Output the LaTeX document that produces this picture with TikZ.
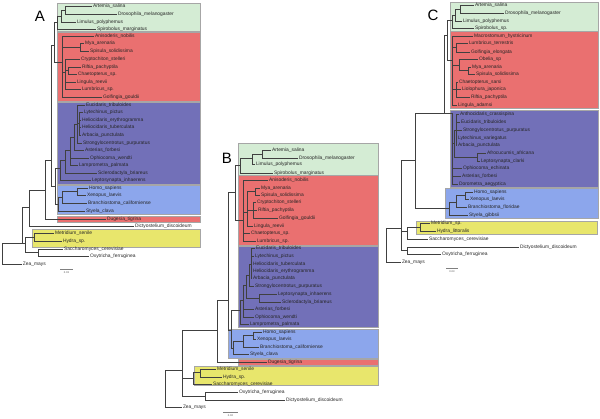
\documentclass[tikz,border=0pt]{standalone}
\usepackage{fontspec}
\setmainfont{Liberation Sans}
\definecolor{bgreen}{RGB}{212,236,212}
\definecolor{bred}{RGB}{234,112,112}
\definecolor{bpurple}{RGB}{114,112,184}
\definecolor{bblue}{RGB}{140,166,236}
\definecolor{byellow}{RGB}{232,230,108}
\newcommand\kids[2]{\foreach \c in {#2}{\draw[br] (#1) |- (\c);}}
\tikzset{
  br/.style={draw=black!75, line width=0.45pt},
  lab/.style={anchor=west, inner xsep=0.8pt, inner ysep=0.3pt, font=\fontsize{4.9}{5.2}\selectfont, text=black!85},
  box/.style={draw=black!35, line width=0.35pt},
  panel/.style={font=\fontsize{15}{15}\selectfont},
  sbar/.style={draw=black!50, line width=0.5pt},
  slab/.style={font=\fontsize{2.6}{3}\selectfont, text=black!70, inner sep=0.3pt}
}
\begin{document}
\begin{tikzpicture}[x=1pt,y=-1pt]
\useasboundingbox (0,0) rectangle (600,418);
% ===================== Panel A =====================
\node[panel] (LA) at (40,16) {A};
\filldraw[box,fill=bgreen] (57,3) rectangle (200,31);
\filldraw[box,fill=bred] (57,32) rectangle (200,101);
\filldraw[box,fill=bpurple] (57,102) rectangle (200,184);
\filldraw[box,fill=bblue] (57,185) rectangle (200,214);
\filldraw[box,fill=bred] (57,216) rectangle (200,222);
\filldraw[box,fill=byellow] (32,229) rectangle (200,247);
\node[lab] (Aart) at (92,6) {Artemia\_salina};
\node[lab] (Adro) at (117,14) {Drosophila\_melanogaster};
\node[lab] (Alim) at (76,22) {Limulus\_polyphemus};
\node[lab] (Aspi) at (96,29) {Spirobolus\_marginatus};
\node[lab] (Aani) at (94,36) {Anisoderis\_nobilis};
\node[lab] (Amya) at (84,43) {Mya\_arenaria};
\node[lab] (Aspis) at (89,51) {Spisula\_solidissima};
\node[lab] (Acry) at (80,59) {Cryptochiton\_stelleri};
\node[lab] (Arif) at (81,67) {Riftia\_pachyptila};
\node[lab] (Acha) at (77,74) {Chaetopterus\_sp.};
\node[lab] (Alin) at (76,82) {Lingula\_reevii};
\node[lab] (Alum) at (81,89) {Lumbricus\_sp.};
\node[lab] (Agol) at (102,97) {Golfingia\_gouldii};
\node[lab] (Aeuc) at (85,105) {Eucidaris\_tribuloides};
\node[lab] (Alyt) at (83,112) {Lytechinus\_pictus};
\node[lab] (Ahery) at (81,120) {Heliocidaris\_erythrogramma};
\node[lab] (Ahtub) at (81,127) {Heliocidaris\_tuberculata};
\node[lab] (Aarb) at (81,135) {Arbacia\_punctulata};
\node[lab] (Astr) at (82,143) {Strongylocentrotus\_purpuratus};
\node[lab] (Aast) at (84,150) {Asterias\_forbesi};
\node[lab] (Aoph) at (89,158) {Ophiocoma\_wendti};
\node[lab] (Alam) at (78,165) {Lamprometra\_palmata};
\node[lab] (Ascl) at (97,173) {Sclerodactyla\_briareus};
\node[lab] (Alep) at (91,180) {Leptosynapta\_inhaerens};
\node[lab] (Ahom) at (88,188) {Homo\_sapiens};
\node[lab] (Axen) at (86,195) {Xenopus\_laevis};
\node[lab] (Abra) at (87,203) {Branchiostoma\_californiense};
\node[lab] (Asty) at (85,211) {Styela\_clava};
\node[lab] (Adug) at (106,219) {Dugesia\_tigrina};
\node[lab] (Adic) at (134,226) {Dictyostelium\_discoideum};
\node[lab] (Amet) at (54,233) {Metridium\_senile};
\node[lab] (Ahyd) at (62,241) {Hydra\_sp.};
\node[lab] (Asac) at (63,249) {Saccharomyces\_cerevisiae};
\node[lab] (Aoxy) at (89,256) {Oxytricha\_ferruginea};
\node[lab] (Azea) at (22,264) {Zea\_mays};
\coordinate (Aa1) at (65,10);
\coordinate (Aa2) at (61,16);
\coordinate (Aa3) at (57,22);
\coordinate (Ar1) at (80,47.5);
\coordinate (Ar3) at (68,70.5);
\coordinate (Ar4) at (65,72);
\coordinate (Ar5) at (62,62);
\coordinate (Ap1) at (54,45);
\coordinate (Ae1) at (79.5,123.5);
\coordinate (Ae2) at (77,124);
\coordinate (Ae3) at (74,137);
\coordinate (Ae4) at (70,150);
\coordinate (Ae5) at (65,160);
\coordinate (Ae6) at (60,168);
\coordinate (Ac1) at (77,191.5);
\coordinate (Ac2) at (62,197);
\coordinate (Ac3) at (58,204);
\coordinate (Ad1) at (55,186);
\coordinate (Ab1) at (51,160);
\coordinate (Ab2) at (45,190);
\coordinate (Ab3) at (29,207);
\coordinate (Ab4) at (22,243);
\coordinate (An2) at (25,243);
\coordinate (Acn) at (34,237);
\coordinate (Afu) at (38,252.5);
\coordinate (Aroot) at (2,253);
\kids{Aa1}{Aart,Adro}
\kids{Aa2}{Aa1,Alim}
\kids{Aa3}{Aa2,Aspi}
\kids{Ar1}{Amya,Aspis}
\kids{Ar3}{Arif,Acha}
\kids{Ar4}{Acry,Ar3,Alin,Alum}
\kids{Ar5}{Aani,Ar1,Ar4,Agol}
\kids{Ap1}{Aa3,Ar5}
\kids{Ae1}{Alyt,Ahery,Ahtub,Aarb}
\kids{Ae2}{Aeuc,Ae1,Astr}
\kids{Ae3}{Ae2,Aast}
\kids{Ae4}{Ae3,Aoph,Alam}
\kids{Ae5}{Ae4,Ascl}
\kids{Ae6}{Ae5,Alep}
\kids{Ac1}{Ahom,Axen}
\kids{Ac2}{Ac1,Abra}
\kids{Ac3}{Ac2,Asty}
\kids{Ad1}{Ae6,Ac3}
\kids{Ab1}{Ap1,Ad1}
\kids{Ab2}{Ab1,Adug}
\kids{Ab3}{Ab2,Adic}
\kids{Ab4}{Ab3,An2}
\kids{An2}{Acn,Afu}
\kids{Acn}{Amet,Ahyd}
\kids{Afu}{Asac,Aoxy}
\kids{Aroot}{Ab4,Azea}
\coordinate (As1) at (60,269);
\coordinate (As2) at (73,269);
\draw[sbar] (As1) -- (As2);
\node[slab] (Asl) at (66.5,272.5) {0.03};
% ===================== Panel B =====================
\node[panel] (LB) at (227,158) {B};
\filldraw[box,fill=bgreen] (238,143) rectangle (378,175);
\filldraw[box,fill=bred] (238,175.5) rectangle (378,245);
\filldraw[box,fill=bpurple] (238,246) rectangle (378,327);
\filldraw[box,fill=bblue] (228,329) rectangle (378,358);
\filldraw[box,fill=bred] (238,359) rectangle (378,365);
\filldraw[box,fill=byellow] (194,366) rectangle (378,385);
\node[lab] (Bart) at (271,150) {Artemia\_salina};
\node[lab] (Bdro) at (298,158) {Drosophila\_melanogaster};
\node[lab] (Blim) at (255,164) {Limulus\_polyphemus};
\node[lab] (Bspi) at (273,173) {Spirobolus\_marginatus};
\node[lab] (Bani) at (268,180) {Anisoderis\_nobilis};
\node[lab] (Bmya) at (260,188) {Mya\_arenaria};
\node[lab] (Bspis) at (260,195) {Spisula\_solidissima};
\node[lab] (Bcry) at (256,202) {Cryptochiton\_stelleri};
\node[lab] (Brif) at (257,210) {Riftia\_pachyptila};
\node[lab] (Bgol) at (278,218) {Golfingia\_gouldii};
\node[lab] (Blin) at (253,226) {Lingula\_reevii};
\node[lab] (Bcha) at (250,233) {Chaetopterus\_sp.};
\node[lab] (Blum) at (256,241) {Lumbricus\_sp.};
\node[lab] (Beuc) at (255,248) {Eucidaris\_tribuloides};
\node[lab] (Blyt) at (254,256) {Lytechinus\_pictus};
\node[lab] (Bhtub) at (252,264) {Heliocidaris\_tuberculata};
\node[lab] (Bhery) at (252,271) {Heliocidaris\_erythrogramma};
\node[lab] (Barb) at (252,278) {Arbacia\_punctulata};
\node[lab] (Bstr) at (254,286) {Strongylocentrotus\_purpuratus};
\node[lab] (Blep) at (277,294) {Leptosynapta\_inhaerens};
\node[lab] (Bscl) at (281,302) {Sclerodactyla\_briareus};
\node[lab] (Bast) at (254,309) {Asterias\_forbesi};
\node[lab] (Boph) at (254,317) {Ophiocoma\_wendti};
\node[lab] (Blam) at (249,324) {Lamprometra\_palmata};
\node[lab] (Bhom) at (262,332) {Homo\_sapiens};
\node[lab] (Bxen) at (256,339) {Xenopus\_laevis};
\node[lab] (Bbra) at (259,347) {Branchiostoma\_californiense};
\node[lab] (Bsty) at (249,354) {Styela\_clava};
\node[lab] (Bdug) at (267,362) {Dugesia\_tigrina};
\node[lab] (Bmet) at (216,369) {Metridium\_senile};
\node[lab] (Bhyd) at (222,377) {Hydra\_sp.};
\node[lab] (Bsac) at (212,384) {Saccharomyces\_cerevisiae};
\node[lab] (Boxy) at (238,392) {Oxytricha\_ferruginea};
\node[lab] (Bdic) at (285,400) {Dictyostelium\_discoideum};
\node[lab] (Bzea) at (182,407) {Zea\_mays};
\coordinate (Bg1) at (262,154);
\coordinate (Bg2) at (252,158);
\coordinate (BG) at (240,165);
\coordinate (Br1) at (255,191.5);
\coordinate (Br2) at (253,210);
\coordinate (Br3) at (247,212);
\coordinate (Br4) at (243,220);
\coordinate (BP) at (235,192);
\coordinate (Bu1) at (251,264);
\coordinate (Bu2) at (249,275);
\coordinate (Bho) at (259,298);
\coordinate (Be3) at (246,285);
\coordinate (Be4) at (243,300);
\coordinate (Be5) at (240,310);
\coordinate (Bh1) at (253,335.5);
\coordinate (Bh2) at (243,341);
\coordinate (Bch) at (233,348);
\coordinate (BD) at (231,330);
\coordinate (BPD) at (228,300);
\coordinate (Bbd) at (217,330);
\coordinate (BXup) at (182,370);
\coordinate (Bcn) at (200,372.5);
\coordinate (BX1) at (193,378);
\coordinate (Box) at (205,396);
\coordinate (Broot) at (165,388);
\kids{Bg1}{Bart,Bdro}
\kids{Bg2}{Bg1,Blim}
\kids{BG}{Bg2,Bspi}
\kids{Br1}{Bmya,Bspis}
\kids{Br2}{Bcry,Brif,Bgol}
\kids{Br3}{Br1,Br2,Blin}
\kids{Br4}{Bani,Br3,Bcha,Blum}
\kids{BP}{BG,Br4}
\kids{Bu1}{Beuc,Blyt,Bhtub,Bhery,Barb}
\kids{Bu2}{Bu1,Bstr}
\kids{Bho}{Blep,Bscl}
\kids{Be3}{Bu2,Bho}
\kids{Be4}{Be3,Bast,Boph}
\kids{Be5}{Be4,Blam}
\kids{Bh1}{Bhom,Bxen}
\kids{Bh2}{Bh1,Bbra}
\kids{Bch}{Bh2,Bsty}
\kids{BD}{Be5,Bch}
\kids{BPD}{BP,BD}
\kids{Bbd}{BPD,Bdug}
\kids{Bcn}{Bmet,Bhyd}
\kids{BX1}{Bcn,Bsac}
\kids{Box}{Boxy,Bdic}
\kids{BXup}{Bbd,BX1,Box}
\kids{Broot}{BXup,Bzea}
\coordinate (Bs1) at (223,412);
\coordinate (Bs2) at (238,412);
\draw[sbar] (Bs1) -- (Bs2);
\node[slab] (Bsl) at (230.5,415.5) {0.02};
% ===================== Panel C =====================
\node[panel] (LC) at (433,15) {C};
\filldraw[box,fill=bgreen] (450,2) rectangle (598,31);
\filldraw[box,fill=bred] (450,31.5) rectangle (598,108);
\filldraw[box,fill=bpurple] (450,110) rectangle (598,187);
\filldraw[box,fill=bblue] (445,188) rectangle (598,218);
\filldraw[box,fill=byellow] (416,221) rectangle (597,234);
\node[lab] (Cart) at (474,5) {Artemia\_salina};
\node[lab] (Cdro) at (504,13) {Drosophila\_melanogaster};
\node[lab] (Clim) at (462,21) {Limulus\_polyphemus};
\node[lab] (Cspi) at (474,28) {Spirobolus\_sp.};
\node[lab] (Cmac) at (473,36) {Macrostomum\_hystricinum};
\node[lab] (Clum) at (468,43) {Lumbricus\_terrestris};
\node[lab] (Cgol) at (470,52) {Golfingia\_elongata};
\node[lab] (Cobe) at (478,59) {Obelia\_sp};
\node[lab] (Cmya) at (471,67) {Mya\_arenaria};
\node[lab] (Cspis) at (475,74) {Spisula\_solidissima};
\node[lab] (Ccha) at (458,82) {Chaetopterus\_sarsi};
\node[lab] (Clio) at (461,89) {Liolophura\_japonica};
\node[lab] (Crif) at (470,97) {Riftia\_pachyptila};
\node[lab] (Clin) at (457,105) {Lingula\_adamsi};
\node[lab] (Cant) at (459,114) {Anthocidaris\_crassispina};
\node[lab] (Ceuc) at (460,122) {Eucidaris\_tribuloides};
\node[lab] (Cstr) at (462,130) {Strongylocentrotus\_purpuratus};
\node[lab] (Clyt) at (457,138) {Lytechinus\_variegatus};
\node[lab] (Carb) at (457,145) {Arbacia\_punctulata};
\node[lab] (Cafr) at (486,153) {Afrocucumis\_africana};
\node[lab] (Clep) at (480,161) {Leptosynapta\_clarki};
\node[lab] (Coph) at (462,168) {Ophiocoma\_echinata};
\node[lab] (Cast) at (461,176) {Asterias\_forbesi};
\node[lab] (Cdor) at (458,184) {Dorometra\_aegyptica};
\node[lab] (Chom) at (473,192) {Homo\_sapiens};
\node[lab] (Cxen) at (469,199) {Xenopus\_laevis};
\node[lab] (Cbra) at (467,207) {Branchiostoma\_floridae};
\node[lab] (Csty) at (468,215) {Styela\_gibbsii};
\node[lab] (Cmet) at (430,223) {Metridium\_sp.};
\node[lab] (Chyd) at (436,231) {Hydra\_littoralis};
\node[lab] (Csac) at (428,239) {Saccharomyces\_cerevisiae};
\node[lab] (Cdic) at (519,247) {Dictyostelium\_discoideum};
\node[lab] (Coxy) at (441,254) {Oxytricha\_ferruginea};
\node[lab] (Czea) at (401,262) {Zea\_mays};
\coordinate (Ca1) at (460,9);
\coordinate (Ca2) at (455,15);
\coordinate (Ca3) at (452,20);
\coordinate (Cr1) at (456,47.5);
\coordinate (Cr2) at (468,70.5);
\coordinate (Cr3) at (459,65);
\coordinate (Cr4) at (456,89);
\coordinate (Cr5) at (452,60);
\coordinate (CP) at (447,35);
\coordinate (Cu1) at (456,130);
\coordinate (Ch1) at (477,157);
\coordinate (Ce2) at (454,143);
\coordinate (CE) at (452,113);
\coordinate (CPD) at (444,113);
\coordinate (Cc1) at (465,195.5);
\coordinate (Cc2) at (456,202);
\coordinate (Cch) at (449,208);
\coordinate (CB0) at (415,160);
\coordinate (Ccn) at (420,227);
\coordinate (CS) at (407,231);
\coordinate (Cox) at (407,250.5);
\coordinate (CN1) at (401,228);
\coordinate (Croot) at (386,245);
\kids{Ca1}{Cart,Cdro}
\kids{Ca2}{Ca1,Clim}
\kids{Ca3}{Ca2,Cspi}
\kids{Cr1}{Clum,Cgol}
\kids{Cr2}{Cmya,Cspis}
\kids{Cr3}{Cobe,Cr2}
\kids{Cr4}{Ccha,Clio,Crif}
\kids{Cr5}{Cmac,Cr1,Cr3,Cr4,Clin}
\kids{CP}{Ca3,Cr5}
\kids{Cu1}{Cant,Ceuc,Cstr,Clyt,Carb}
\kids{Ch1}{Cafr,Clep}
\kids{Ce2}{Cu1,Ch1}
\kids{CE}{Ce2,Coph,Cast,Cdor}
\kids{CPD}{CP,CE}
\kids{Cc1}{Chom,Cxen}
\kids{Cc2}{Cc1,Cbra}
\kids{Cch}{Cc2,Csty}
\kids{CB0}{CPD,Cch}
\kids{Ccn}{Cmet,Chyd}
\kids{CS}{Ccn,Csac}
\kids{Cox}{Cdic,Coxy}
\kids{CN1}{CB0,CS,Cox}
\kids{Croot}{CN1,Czea}
\coordinate (Cs1) at (446,268);
\coordinate (Cs2) at (458,268);
\draw[sbar] (Cs1) -- (Cs2);
\node[slab] (Csl) at (452,271.5) {0.03};
\end{tikzpicture}
\end{document}
